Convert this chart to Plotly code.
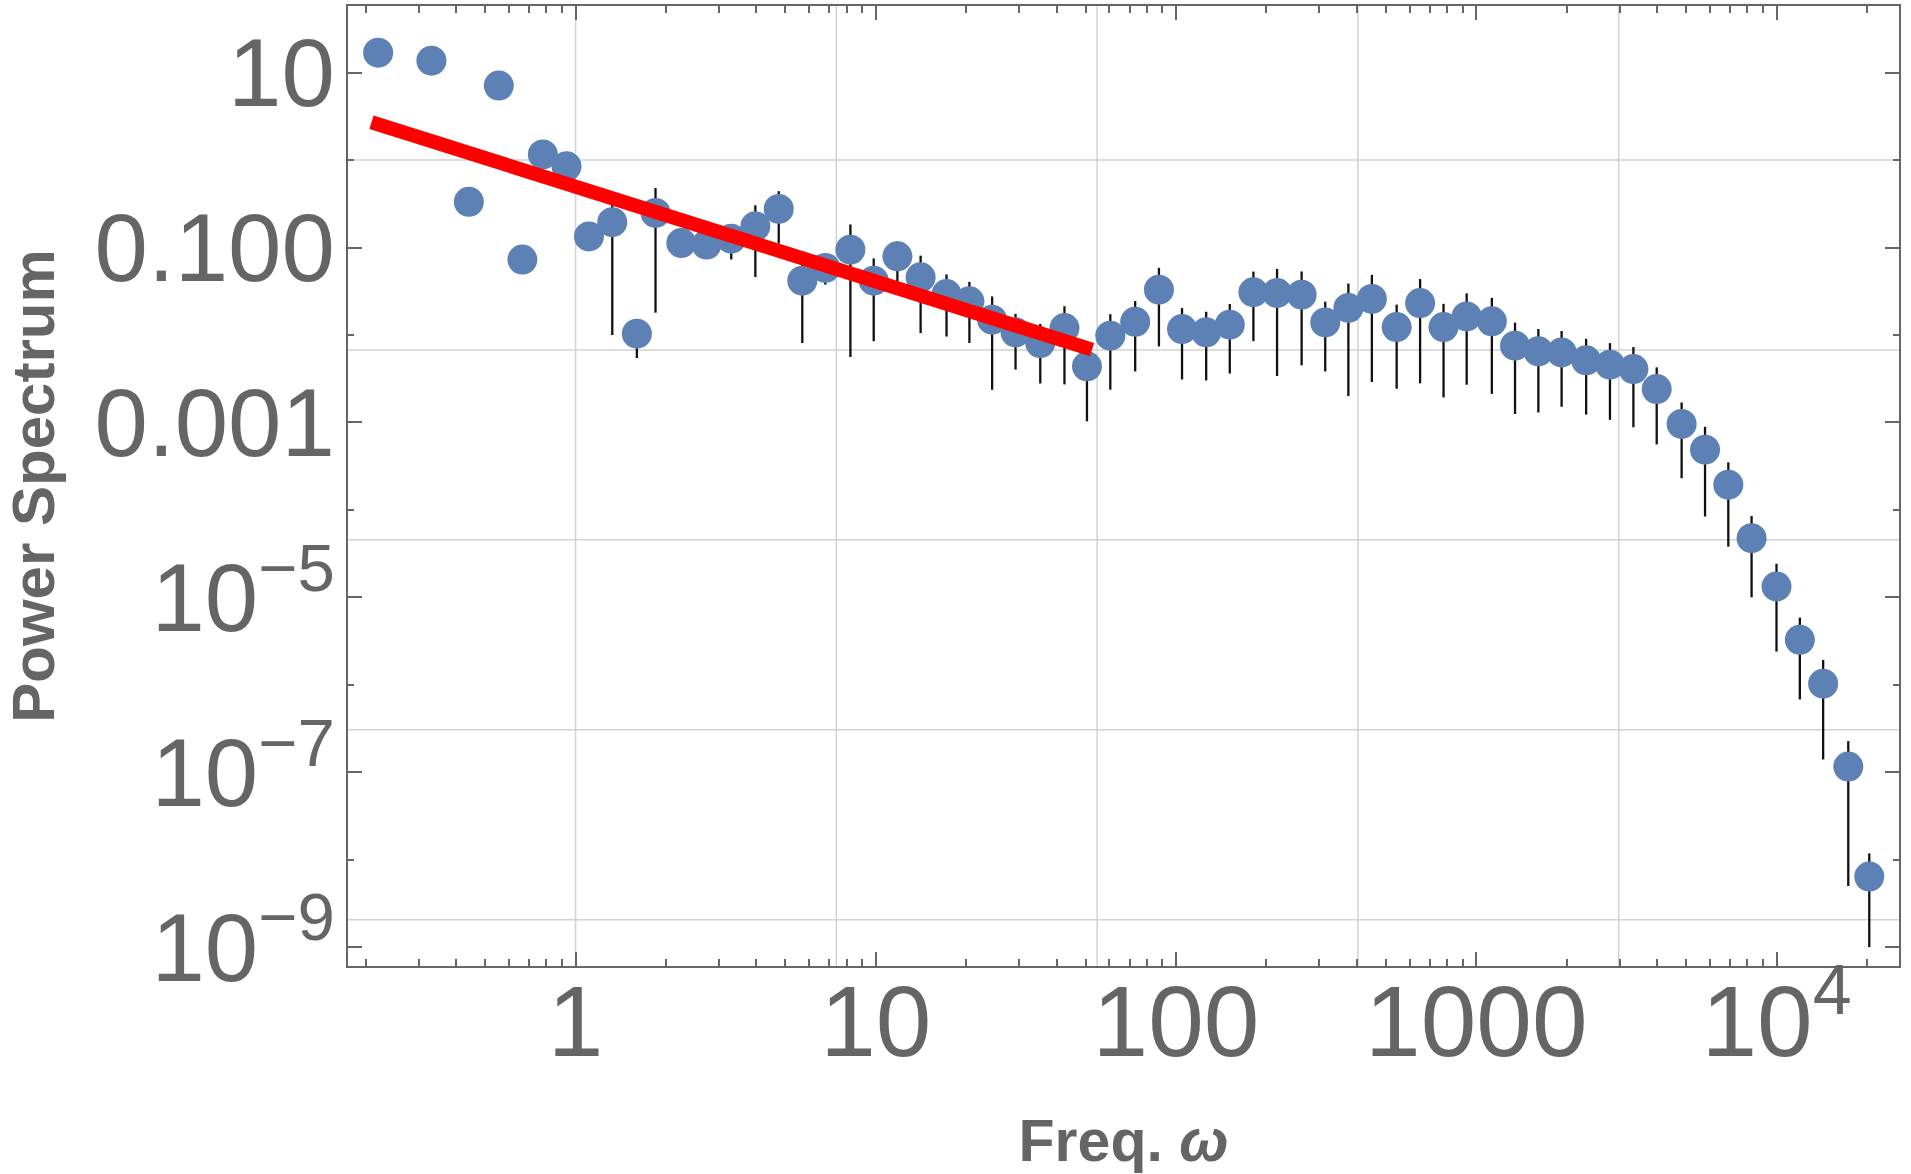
import math
import plotly.graph_objects as go

# Binned power spectrum: frequency, power and symmetric error half-widths
freq = [0.220, 0.331, 0.441, 0.555, 0.665, 0.778, 0.933, 1.108, 1.325, 1.60,
        1.846, 2.25, 2.73, 3.30, 3.97, 4.75, 5.69, 6.79, 8.23, 9.84,
        11.8, 14.1, 17.2, 20.5, 24.4, 29.2, 35.3, 42.5, 50.5, 60.4,
        73.1, 87.7, 104.7, 126, 151, 181, 217, 262, 314, 375,
        449, 543, 650, 778, 929, 1127, 1346, 1610, 1924, 2322,
        2788, 3337, 3990, 4830, 5780, 6910, 8260, 10000, 11960, 14300,
        17340, 20370]
power = [16.9, 13.7, 0.333, 7.11, 0.0728, 1.16, 0.849, 0.134, 0.195, 0.01035,
         0.249, 0.1127, 0.108, 0.126, 0.175, 0.276, 0.0418, 0.0585, 0.0946, 0.0418,
         0.0793, 0.0456, 0.0294, 0.0243, 0.01496, 0.01072, 0.00809, 0.01202, 0.00438, 0.00982,
         0.01413, 0.033, 0.0117, 0.01072, 0.01312, 0.0308, 0.0302, 0.0289, 0.01393, 0.0204,
         0.0258, 0.01233, 0.0232, 0.01233, 0.0163, 0.01432, 0.00755, 0.0065, 0.00631, 0.00513,
         0.00457, 0.00408, 0.00241, 0.00096, 0.000488, 0.000194, 4.75e-5, 1.33e-5, 3.27e-6, 1.03e-6,
         1.16e-7, 6.4e-9]
power_err = [0, 0, 0, 0, 0, 0, 0, 0, 0.185, 0.0049,
             0.231, 0.022, 0.02, 0.053, 0.129, 0.165, 0.0337, 0.0208, 0.089, 0.0333,
             0.038, 0.0351, 0.0198, 0.0162, 0.0126, 0.0067, 0.0053, 0.0093, 0.00335, 0.00745,
             0.0103, 0.0256, 0.0086, 0.0077, 0.0095, 0.0223, 0.0268, 0.0244, 0.0101, 0.0184,
             0.0229, 0.0099, 0.0204, 0.0104, 0.0136, 0.0122, 0.0063, 0.0052, 0.0048, 0.0039,
             0.0035, 0.0032, 0.00185, 0.00073, 0.000404, 0.000156, 3.75e-5, 1.09e-5, 2.59e-6, 8.9e-7,
             1.11e-7, 5.4e-9]

# Power-law fit over the low-frequency range (end points)
fit_freq = [0.209, 52.5]
fit_power = [2.71, 0.00679]

# Axis ticks
x_tick_vals = [1, 10, 100, 1000, 10000]
x_tick_text = ["1", "10", "100", "1000", "10<sup>4</sup>"]
y_tick_vals = [10, 0.1, 1e-3, 1e-5, 1e-7, 1e-9]
y_tick_text = ["10", "0.100", "0.001", "10<sup>\u22125</sup>", "10<sup>\u22127</sup>", "10<sup>\u22129</sup>"]
y_minor_vals = [1, 1e-2, 1e-4, 1e-6, 1e-8]
x_minor_vals = [m * 10 ** d for d in range(-1, 5) for m in range(2, 10)]

# Grid lines sit at natural-log steps
grid_x = [math.exp(2 * k) for k in range(5)]
grid_y = [math.exp(-5 * k) for k in range(5)]

FRAME = "#666666"
TEXT = "#656565"
BLUE = "rgb(94,129,181)"

fig = go.Figure()

fig.add_trace(go.Scatter(
    x=freq, y=power, mode="markers",
    marker=dict(size=30, color=BLUE, line=dict(width=0)),
    error_y=dict(type="data", array=power_err, visible=True,
                 color="#111111", thickness=2.3, width=0),
    hoverinfo="x+y",
))

fig.add_trace(go.Scatter(
    x=fit_freq, y=fit_power, mode="lines",
    line=dict(color="rgb(255,0,0)", width=14),
    hoverinfo="skip",
))

shapes = []
for gx in grid_x:
    shapes.append(dict(type="line", xref="x", yref="paper", x0=gx, x1=gx, y0=0, y1=1,
                       layer="below", line=dict(color="#d2d2d2", width=1.5)))
for gy in grid_y:
    shapes.append(dict(type="line", xref="paper", yref="y", x0=0, x1=1, y0=gy, y1=gy,
                       layer="below", line=dict(color="#d2d2d2", width=1.5)))

fig.update_layout(
    width=1911, height=1174,
    margin=dict(l=348, r=12, t=6, b=208),
    plot_bgcolor="white", paper_bgcolor="white",
    showlegend=False,
    font=dict(family="Liberation Sans, Arial, sans-serif", color=TEXT),
    shapes=shapes,
)

fig.update_xaxes(
    type="log", range=[-0.758, 4.408], automargin=False,
    showgrid=False, zeroline=False,
    showline=True, linecolor=FRAME, linewidth=2, mirror="ticks",
    ticks="inside", ticklen=14, tickwidth=1.5, tickcolor=FRAME,
    tickvals=x_tick_vals, ticktext=x_tick_text,
    tickfont=dict(size=100, color=TEXT), ticklabelstandoff=-32,
    minor=dict(tickvals=x_minor_vals, ticks="inside", ticklen=7, tickwidth=1.5,
               tickcolor=FRAME, showgrid=False),
    title=dict(text="<b>Freq. <i>\u03c9</i></b>", font=dict(size=59, color=TEXT), standoff=52),
)

fig.update_yaxes(
    type="log", range=[-9.216, 1.762], automargin=False,
    showgrid=False, zeroline=False,
    showline=True, linecolor=FRAME, linewidth=2, mirror="ticks",
    ticks="inside", ticklen=14, tickwidth=1.5, tickcolor=FRAME,
    tickvals=y_tick_vals, ticktext=y_tick_text,
    tickfont=dict(size=96, color=TEXT), ticklabelstandoff=-8,
    minor=dict(tickvals=y_minor_vals, ticks="inside", ticklen=6, tickwidth=1.5,
               tickcolor=FRAME, showgrid=False),
    title=dict(text="<b>Power Spectrum</b>", font=dict(size=60, color=TEXT), standoff=33),
)

fig.write_html("out.html")
